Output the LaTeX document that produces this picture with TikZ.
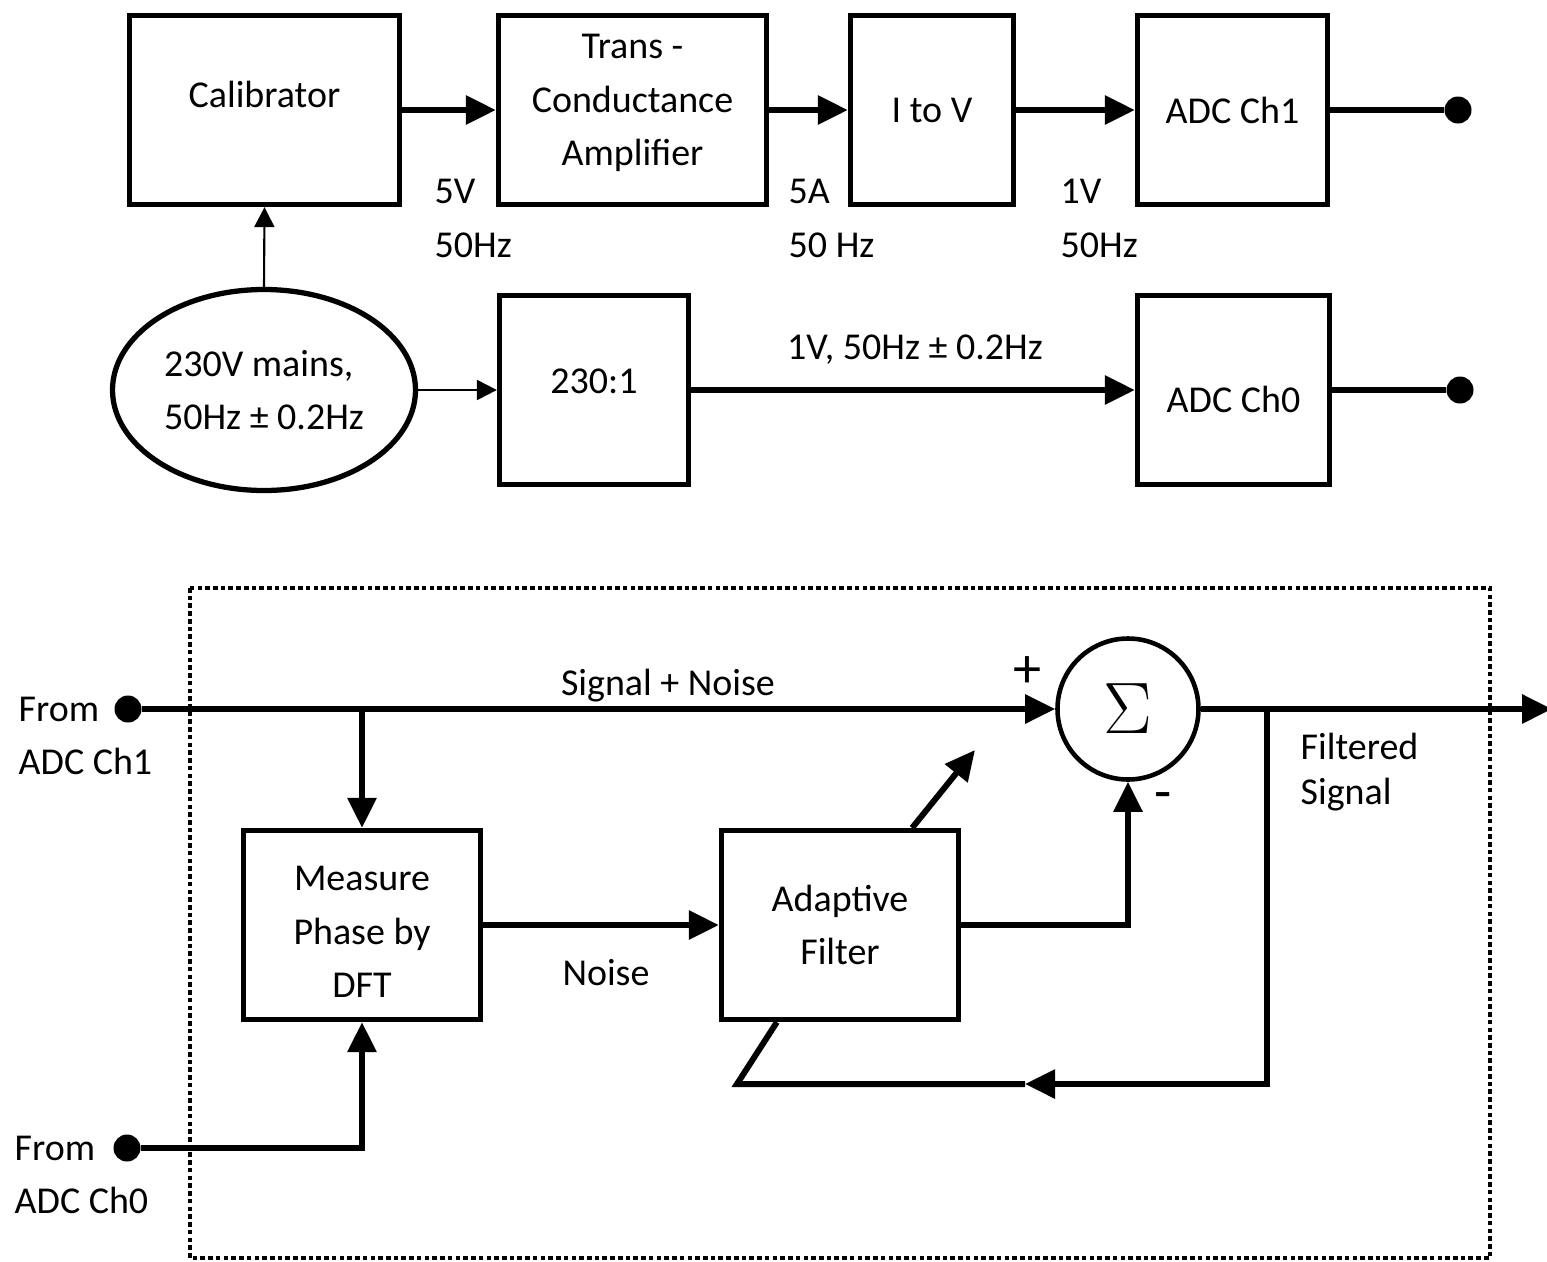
\documentclass[tikz,border=0pt]{standalone}
\usepackage{fontspec}
\setmainfont{Carlito}
\usepackage{tikz}
\usetikzlibrary{arrows.meta,calc,positioning,shapes.geometric}

\begin{document}
\begin{tikzpicture}[>={Triangle[length=3mm,width=2.8mm]},
    every node/.style={font=\fontsize{10.8}{15.3}\selectfont},
    blk/.style={draw, line width=1.5pt, align=center, inner sep=0pt, minimum height=1.89cm},
    sig/.style={line width=1.7pt},
    thin/.style={line width=0.6pt, >={Triangle[length=2mm,width=2mm]}},
    pin/.style={circle, fill, minimum size=0.27cm, inner sep=0pt},
    tag/.style={anchor=west, align=left, inner sep=0pt}]
    \useasboundingbox (0,0) rectangle (15.47,-12.61);

    % test rig
    \node[blk, minimum width=2.70cm] (cal) at (2.645,-1.10) {\smash{\raisebox{0.8pt}{Calibrator}}};
    \node[blk, minimum width=2.68cm] (tca) at (6.325,-1.10) {\smash{\raisebox{-0.3pt}{\begin{tabular}{@{}c@{}}Trans -\\Conductance\\Amplifier\end{tabular}}}};
    \node[blk, minimum width=1.63cm] (itov) at (9.32,-1.10) {I to V};
    \node[blk, minimum width=1.90cm] (adc1) at (12.325,-1.10) {ADC Ch1};
    \node[pin] (o1) at (14.58,-1.10) {};
    \node[draw, ellipse, line width=1.5pt, minimum width=3.03cm, minimum height=2.01cm, inner sep=0pt, align=left] (mains) at (2.64,-3.90) {230V mains,\\50Hz ± 0.2Hz};
    \node[blk, minimum width=1.89cm] (div) at (5.94,-3.90) {\smash{\raisebox{-0.9pt}{230:1}}};
    \node[blk, minimum width=1.92cm] (adc0) at (12.335,-3.90) {\smash{\raisebox{-6.3pt}{ADC Ch0}}};
    \node[pin] (o0) at (14.60,-3.90) {};

    \draw[sig,->] (cal) -- (tca);
    \draw[sig,->] (tca) -- (itov);
    \draw[sig,->] (itov) -- (adc1);
    \draw[sig] (adc1) -- (o1);
    \draw[thin,->] (mains.north) -- (cal.south);
    \draw[thin,->] (mains) -- (div);
    \draw[sig,->] (div) -- (adc0);
    \draw[sig] (adc0) -- (o0);

    \node[tag] (l5v) at (4.34,-2.185) {5V\\50Hz};
    \node[tag] (l5a) at (7.88,-2.185) {5A\\50 Hz};
    \node[tag] (l1v) at (10.60,-2.185) {1V\\50Hz};
    \node (l1v2) at (9.15,-3.50) {1V, 50Hz ± 0.2Hz};

    % filter
    \draw[line width=1.4pt, dash pattern=on 1.3pt off 0.9pt] (1.90,-5.88) rectangle (14.90,-12.58);

    \node[draw, circle, line width=1.3pt, minimum size=1.41cm, inner sep=0pt] (sum) at (11.28,-7.09) {\fontsize{20}{22}\selectfont$\Sigma$};
    \node[blk, minimum width=2.37cm] (meas) at (3.62,-9.25) {\smash{\raisebox{-5.1pt}{\begin{tabular}{@{}c@{}}Measure\\Phase by\\DFT\end{tabular}}}};
    \node[blk, minimum width=2.37cm] (adapt) at (8.40,-9.25) {Adaptive\\Filter};
    \node[pin] (in1) at (1.28,-7.09) {};
    \node[pin] (in0) at (1.27,-11.48) {};
    \node[tag] (f1) at (0.18,-7.36) {From\\ADC Ch1};
    \node[tag] (f0) at (0.14,-11.75) {From\\ADC Ch0};

    \coordinate (br) at (meas.north |- in1);
    \coordinate (aim) at (9.75,-7.50);
    \coordinate (out) at (15.52,-7.09);
    \coordinate (tap) at (12.67,-7.09);
    \coordinate (fbtip) at (10.25,-10.84);
    \coordinate (fb) at (7.37,-10.84);

    \draw[sig,->] (in1) -- (sum);
    \draw[sig,->] (br) -- (meas);
    \draw[sig,->] (in0) -| (meas);
    \draw[sig,->] (meas) -- (adapt);
    \draw[sig,->] (adapt) -| (sum);
    \draw[sig,->] ($(adapt.north east)+(-0.49,0)$) -- (aim);
    \draw[sig,->] (sum) -- (out);
    \draw[sig,->] (tap) |- (fbtip);
    \draw[sig] (fbtip) -- (fb) -- ($(adapt.south west)+(0.58,0)$);

    \node (sn) at (6.68,-6.86) {Signal + Noise};
    \node (nz) at (6.06,-9.73) {Noise};
    \node (plus) at (10.27,-6.72) {\fontsize{16}{18}\selectfont +};
    \node (minus) at (11.63,-8.02) {\fontsize{16}{18}\selectfont -};
    \node[tag] (fs) at (13.00,-7.725) {Filtered\\[-2.5pt]Signal};
\end{tikzpicture}
\end{document}
